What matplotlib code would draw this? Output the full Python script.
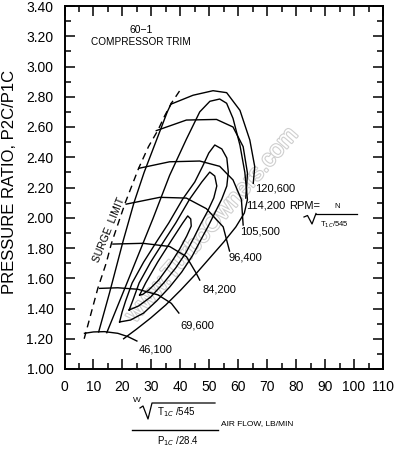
import matplotlib
matplotlib.use("Agg")
import matplotlib.pyplot as plt
import matplotlib.patheffects as pe
from matplotlib.ticker import MultipleLocator, FormatStrFormatter

plt.rcParams['font.family'] = ['Liberation Sans', 'DejaVu Sans']

# speed lines: corrected air flow (lb/min) -> pressure ratio
rpm_46100_flow = [6.9, 10.0, 13.8, 18.4, 21.9, 25.0]
rpm_46100_pr = [1.236, 1.245, 1.247, 1.236, 1.214, 1.185]
rpm_69600_flow = [12.1, 18.4, 25.4, 32.3, 36.9, 39.5]
rpm_69600_pr = [1.533, 1.537, 1.527, 1.49, 1.434, 1.37]
rpm_84200_flow = [16.7, 27.1, 36.3, 42.1, 45.5, 46.7]
rpm_84200_pr = [1.826, 1.831, 1.81, 1.743, 1.633, 1.588]
rpm_96400_flow = [21.3, 32.9, 42.1, 49.0, 54.8, 57.0]
rpm_96400_pr = [2.09, 2.135, 2.13, 2.06, 1.94, 1.78]
rpm_105500_flow = [25.7, 36.3, 46.7, 53.6, 58.2, 61.1, 61.7]
rpm_105500_pr = [2.327, 2.37, 2.375, 2.34, 2.25, 2.12, 1.952]
rpm_114200_flow = [31.7, 42.1, 52.5, 58.2, 61.7, 63.2, 62.6]
rpm_114200_pr = [2.576, 2.646, 2.65, 2.6, 2.47, 2.294, 2.13]
rpm_120600_flow = [36.9, 44.4, 51.3, 56.0, 60.6, 64.0, 65.7, 65.2]
rpm_120600_pr = [2.752, 2.81, 2.84, 2.827, 2.71, 2.514, 2.338, 2.228]
speed_labels = ['46,100', '69,600', '84,200', '96,400', '105,500', '114,200', '120,600']

# surge limit (dashed)
surge_flow = [6.8, 9.2, 11.5, 14.4, 16.2, 18.5, 21.0, 25.6, 29.0, 32.3, 34.5, 36.9, 39.8]
surge_pr = [1.20, 1.37, 1.533, 1.70, 1.83, 1.96, 2.10, 2.327, 2.47, 2.58, 2.67, 2.757, 2.84]

# efficiency islands, innermost first
eff1_flow = [25.95, 28.03, 32.18, 37.02, 40.83, 42.56, 43.60, 43.77, 42.21, 39.79, 36.33, 32.53,
             29.07, 26.99, 25.95]
eff1_pr = [1.489, 1.569, 1.707, 1.853, 1.965, 2.012, 1.992, 1.945, 1.879, 1.793, 1.688, 1.588,
           1.522, 1.493, 1.489]
eff2_flow = [22.32, 23.53, 25.78, 29.76, 34.60, 38.41, 43.25, 47.40, 50.17, 51.90, 52.60, 51.56,
             49.48, 47.06, 44.64, 41.87, 38.41, 34.26, 29.76, 25.61, 22.32]
eff2_pr = [1.390, 1.450, 1.569, 1.707, 1.853, 1.965, 2.124, 2.236, 2.302, 2.276, 2.210, 2.131,
           2.045, 1.959, 1.866, 1.767, 1.668, 1.569, 1.476, 1.417, 1.390]
eff3_flow = [19.03, 19.90, 21.11, 23.36, 27.34, 32.18, 35.99, 40.83, 44.98, 47.75, 49.83, 51.90,
             54.33, 56.06, 56.57, 56.06, 54.33, 52.08, 49.65, 47.06, 44.12, 40.48, 36.33, 31.83,
             27.34, 22.84, 19.03]
eff3_pr = [1.311, 1.377, 1.450, 1.569, 1.707, 1.853, 1.965, 2.124, 2.236, 2.342, 2.428, 2.481,
           2.455, 2.395, 2.302, 2.210, 2.124, 2.038, 1.945, 1.853, 1.747, 1.641, 1.542, 1.450,
           1.370, 1.324, 1.311]
eff4_flow = [14.60, 20.59, 30.59, 36.30, 42.11, 46.71, 50.21, 53.60, 55.99, 58.20, 60.59, 62.28,
             63.18, 62.11, 59.17, 55.02, 50.17, 45.33, 40.14, 34.95, 29.76, 24.91, 20.42]
eff4_pr = [1.240, 1.522, 1.996, 2.280, 2.520, 2.700, 2.770, 2.785, 2.757, 2.657, 2.480, 2.300,
           2.120, 2.031, 1.939, 1.840, 1.734, 1.628, 1.522, 1.423, 1.337, 1.264, 1.200]
eff5_flow = [11.8, 15.5, 20.3, 24.0, 27.5, 31.5, 35.5, 36.9]
eff5_pr = [1.245, 1.50, 1.85, 2.10, 2.30, 2.50, 2.70, 2.757]

fig = plt.figure(figsize=(3.99, 4.5), dpi=100)
ax = fig.add_axes([64.5 / 399, 81 / 450, 318.5 / 399, 363 / 450])

# faint watermark under the curves
ax.text(51, 1.95, 'www.TurboOwners.com', rotation=49, ha='center', va='center',
        fontsize=17, color='white', zorder=0,
        path_effects=[pe.withStroke(linewidth=1.6, foreground='#cfcfcf')])

lw = 1.0
for fx, fy in [(eff1_flow, eff1_pr), (eff2_flow, eff2_pr), (eff3_flow, eff3_pr),
               (eff4_flow, eff4_pr), (eff5_flow, eff5_pr)]:
    ax.plot(fx, fy, color='black', lw=lw)

speeds = [(rpm_46100_flow, rpm_46100_pr), (rpm_69600_flow, rpm_69600_pr),
          (rpm_84200_flow, rpm_84200_pr), (rpm_96400_flow, rpm_96400_pr),
          (rpm_105500_flow, rpm_105500_pr), (rpm_114200_flow, rpm_114200_pr),
          (rpm_120600_flow, rpm_120600_pr)]
# label offsets (points) from the end of each speed line
offsets = [(1, -6), (1, -9), (2, -7), (-1, -5), (-2, -5), (0, -5), (1, -4)]
for (fx, fy), lab, off in zip(speeds, speed_labels, offsets):
    ax.plot(fx, fy, color='black', lw=lw)
    ax.annotate(lab, (fx[-1], fy[-1]), xytext=off, textcoords='offset points',
                ha='left', va='center', fontsize=8)

ax.plot(surge_flow, surge_pr, color='black', lw=lw, ls=(0, (5, 3.5)))

ax.text(15.5, 1.92, 'SURGE  LIMIT', rotation=68, ha='center', va='center', fontsize=7.5)
ax.text(26.5, 3.241, '60\u22121', ha='center', va='center', fontsize=7.5)
ax.text(26.5, 3.164, 'COMPRESSOR TRIM', ha='center', va='center', fontsize=7.2)

ax.set_xlim(0, 110)
ax.set_ylim(1.0, 3.4)
ax.xaxis.set_major_locator(MultipleLocator(10))
ax.xaxis.set_minor_locator(MultipleLocator(5))
ax.yaxis.set_major_locator(MultipleLocator(0.2))
ax.yaxis.set_minor_locator(MultipleLocator(0.1))
ax.yaxis.set_major_formatter(FormatStrFormatter('%.2f'))
ax.tick_params(which='both', direction='in', top=True, right=True, labelsize=10, pad=8)
ax.tick_params(which='major', length=7, width=1.1)
ax.tick_params(which='minor', length=4, width=1.1)
for sp in ax.spines.values():
    sp.set_linewidth(1.4)

fig.text(10 / 399, 1 - 182 / 450, 'PRESSURE RATIO, P2C/P1C', rotation=90,
         ha='center', va='center', fontsize=12)

# overlay in pixel units for the formula annotations
ov = fig.add_axes([0, 0, 1, 1], facecolor='none')
ov.set_xlim(0, 399)
ov.set_ylim(450, 0)
ov.axis('off')

# RPM = N / sqrt(T1C/545)
ov.text(289, 206, 'RPM=', ha='left', va='center', fontsize=8)
ov.text(337, 207, 'N', ha='center', va='center', fontsize=5.5)
ov.plot([316, 357], [213.5, 213.5], color='black', lw=0.9)
ov.plot([304, 307.5, 312, 316], [217, 215.5, 224, 213.5], color='black', lw=0.9)
ov.text(320, 224.5, r'T$_{1C}$/545', ha='left', va='center', fontsize=5.5)

# x-axis label fraction
ov.text(136.5, 401, 'W', ha='center', va='center', fontsize=6)
ov.plot([140, 143, 148, 152, 215], [408, 406, 419, 403, 403], color='black', lw=0.9)
ov.text(157, 412, r'T$_{1C}$ /545', ha='left', va='center', fontsize=7)
ov.plot([132, 218], [429.5, 429.5], color='black', lw=1.0)
ov.text(221, 423.5, 'AIR FLOW, LB/MIN', ha='left', va='center', fontsize=6)
ov.text(157, 441, r'P$_{1C}$ /28.4', ha='left', va='center', fontsize=7)

fig.savefig('out.png', dpi=100)
